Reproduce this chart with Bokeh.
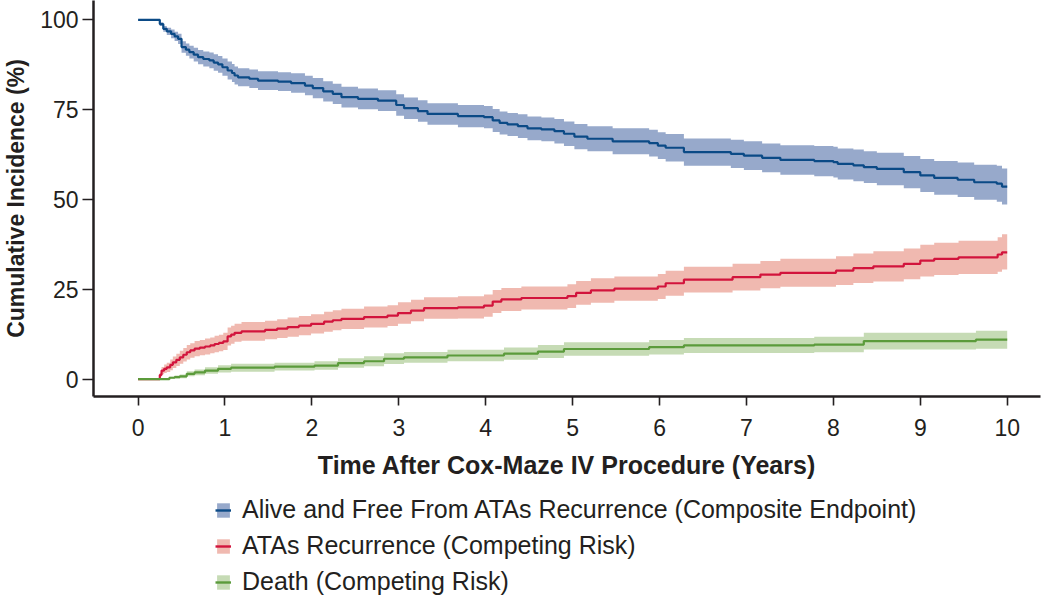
from bokeh.plotting import figure
from bokeh.layouts import column
from bokeh.models import Legend, LegendItem, FixedTicker, Range1d
from bokeh.embed import file_html
from bokeh.resources import INLINE

# ---------------- data ----------------
x_ticks = [0, 1, 2, 3, 4, 5, 6, 7, 8, 9, 10]
y_ticks = [0, 25, 50, 75, 100]

labels = ["Alive and Free From ATAs Recurrence (Composite Endpoint)",
          "ATAs Recurrence (Competing Risk)",
          "Death (Competing Risk)"]

# Alive and free from ATAs recurrence
t_b = [0.00, 0.25, 0.29, 0.33, 0.38, 0.42, 0.46, 0.50, 0.55, 0.59,
       0.64, 0.69, 0.75, 0.82, 0.87, 0.92, 0.97, 1.03, 1.08, 1.11,
       1.15, 1.28, 1.38, 1.61, 1.76, 1.92, 2.01, 2.13, 2.24, 2.34,
       2.53, 2.76, 2.97, 3.06, 3.22, 3.33, 3.68, 3.98, 4.08, 4.16,
       4.25, 4.37, 4.48, 4.64, 4.79, 4.90, 5.02, 5.17, 5.46, 5.88,
       5.98, 6.07, 6.28, 6.82, 6.97, 7.18, 7.39, 7.78, 8.00, 8.05,
       8.23, 8.35, 8.50, 8.81, 9.00, 9.16, 9.43, 9.62, 9.88, 9.94,
       10.00]
est_b = [100.0, 98.8, 97.5, 96.8, 96.1, 95.4, 94.7, 92.4, 91.7, 91.0,
         90.3, 89.6, 89.1, 88.7, 88.1, 87.6, 86.8, 85.9, 85.2, 84.5,
         84.0, 83.6, 83.1, 82.8, 82.4, 81.7, 81.0, 80.1, 79.4, 78.5,
         78.0, 77.5, 76.3, 75.4, 74.6, 73.8, 73.2, 72.9, 72.0, 71.3,
         70.9, 70.4, 69.8, 69.5, 69.0, 68.3, 67.5, 66.9, 66.2, 65.7,
         65.0, 64.4, 63.2, 62.7, 62.2, 61.6, 61.0, 60.7, 60.4, 59.9,
         59.5, 59.0, 58.5, 57.6, 56.7, 56.0, 55.5, 54.8, 54.4, 53.6,
         53.6]
lo_b = [100.0, 98.3, 96.7, 95.8, 94.9, 94.1, 93.3, 90.8, 90.0, 89.2,
        88.4, 87.6, 87.0, 86.5, 85.8, 85.3, 84.4, 83.4, 82.7, 82.0,
        81.5, 81.0, 80.5, 80.2, 79.7, 79.0, 78.2, 77.3, 76.6, 75.6,
        75.1, 74.6, 73.3, 72.4, 71.6, 70.8, 70.1, 69.8, 68.8, 68.1,
        67.7, 67.1, 66.5, 66.2, 65.6, 64.9, 64.0, 63.4, 62.6, 62.0,
        61.3, 60.6, 59.4, 58.8, 58.2, 57.6, 56.9, 56.5, 56.1, 55.6,
        55.1, 54.6, 54.0, 53.1, 52.1, 51.3, 50.7, 49.9, 49.4, 48.6,
        48.6]
hi_b = [100.0, 99.3, 98.3, 97.8, 97.3, 96.7, 96.1, 94.0, 93.4, 92.8,
        92.2, 91.6, 91.2, 90.9, 90.4, 89.9, 89.2, 88.4, 87.7, 87.0,
        86.5, 86.2, 85.7, 85.4, 85.1, 84.4, 83.8, 82.9, 82.2, 81.4,
        80.9, 80.4, 79.3, 78.4, 77.6, 76.8, 76.3, 76.0, 75.2, 74.5,
        74.1, 73.7, 73.1, 72.8, 72.4, 71.7, 71.0, 70.4, 69.8, 69.4,
        68.7, 68.2, 67.0, 66.6, 66.2, 65.6, 65.1, 64.9, 64.7, 64.2,
        63.9, 63.4, 63.0, 62.1, 61.3, 60.7, 60.3, 59.7, 59.4, 58.6,
        58.6]

# ATAs recurrence
t_r = [0.00, 0.25, 0.27, 0.30, 0.33, 0.37, 0.40, 0.44, 0.48, 0.52,
       0.56, 0.60, 0.65, 0.71, 0.77, 0.83, 0.88, 0.93, 0.98, 1.03,
       1.07, 1.11, 1.19, 1.46, 1.60, 1.72, 1.85, 1.99, 2.14, 2.24,
       2.34, 2.60, 2.87, 2.99, 3.14, 3.29, 3.68, 3.98, 4.08, 4.18,
       4.41, 4.94, 5.04, 5.21, 5.48, 5.98, 6.07, 6.28, 6.84, 7.16,
       7.39, 8.03, 8.23, 8.46, 8.81, 9.00, 9.16, 9.44, 9.89, 9.94,
       10.00]
est_r = [0.0, 1.2, 2.4, 2.9, 3.3, 4.0, 4.7, 5.4, 6.1, 6.8,
         7.5, 8.0, 8.5, 8.8, 9.1, 9.4, 9.8, 10.1, 10.5, 11.9,
         12.4, 12.9, 13.3, 13.7, 14.1, 14.5, 14.9, 15.4, 16.0, 16.4,
         16.8, 17.3, 17.7, 18.4, 19.1, 19.8, 20.0, 20.5, 21.6, 22.2,
         22.6, 23.1, 24.0, 24.7, 25.2, 25.8, 26.7, 27.7, 28.4, 29.1,
         29.6, 30.2, 30.9, 31.4, 32.1, 33.0, 33.5, 33.9, 34.7, 35.3,
         35.3]
lo_r = [0.0, 0.6, 1.4, 1.7, 2.0, 2.5, 3.1, 3.7, 4.3, 4.9,
        5.5, 6.0, 6.4, 6.7, 6.9, 7.2, 7.5, 7.8, 8.1, 9.4,
        9.9, 10.4, 10.7, 11.1, 11.5, 11.8, 12.2, 12.7, 13.2, 13.6,
        14.0, 14.4, 14.8, 15.4, 16.1, 16.8, 16.9, 17.4, 18.4, 19.0,
        19.4, 19.8, 20.7, 21.3, 21.8, 22.3, 23.2, 24.1, 24.7, 25.3,
        25.7, 26.2, 26.8, 27.2, 27.8, 28.6, 29.0, 29.3, 29.9, 30.5,
        30.5]
hi_r = [0.0, 1.8, 3.4, 4.1, 4.6, 5.5, 6.3, 7.1, 7.9, 8.7,
        9.5, 10.0, 10.6, 10.9, 11.3, 11.6, 12.1, 12.4, 12.9, 14.4,
        14.9, 15.4, 15.9, 16.3, 16.7, 17.2, 17.6, 18.1, 18.8, 19.2,
        19.6, 20.2, 20.6, 21.4, 22.1, 22.8, 23.1, 23.6, 24.8, 25.4,
        25.8, 26.4, 27.3, 28.1, 28.6, 29.3, 30.2, 31.3, 32.1, 32.9,
        33.5, 34.2, 35.0, 35.6, 36.4, 37.4, 38.0, 38.5, 39.5, 40.3,
        40.3]

# Death
t_g = [0.00, 0.36, 0.42, 0.48, 0.56, 0.65, 0.77, 0.92, 1.07, 1.57,
       2.03, 2.30, 2.60, 2.83, 3.06, 3.56, 4.21, 4.60, 4.90, 5.88,
       6.28, 7.78, 8.35, 9.64, 10.00]
est_g = [0.0, 0.4, 0.6, 0.8, 1.5, 1.9, 2.4, 2.9, 3.2, 3.5,
         3.8, 4.5, 5.0, 5.7, 6.1, 6.6, 7.1, 7.7, 8.4, 8.9,
         9.4, 9.65, 10.6, 11.0, 11.0]
lo_g = [0.0, 0.1, 0.2, 0.3, 0.8, 1.1, 1.5, 1.9, 2.1, 2.4,
        2.6, 3.2, 3.6, 4.2, 4.6, 5.0, 5.4, 5.9, 6.5, 6.9,
        7.3, 7.5, 8.3, 8.5, 8.5]
hi_g = [0.0, 0.7, 1.0, 1.3, 2.2, 2.7, 3.3, 3.9, 4.3, 4.6,
        5.0, 5.8, 6.4, 7.2, 7.6, 8.2, 8.8, 9.5, 10.3, 10.9,
        11.5, 11.8, 12.9, 13.5, 13.5]

line_colors = ["#0b4a86", "#d2143c", "#5b9b3b"]
band_colors = ["#97a9cb", "#f0b9b0", "#c6dbb5"]

FONT = "Liberation Sans"
INK = "#231f20"

# ---------------- main chart ----------------
p = figure(width=1050, frame_height=396, output_backend="svg", toolbar_location=None,
           x_range=Range1d(-0.513, 10.383), y_range=Range1d(-4.81, 105.37),
           min_border_left=92, min_border_right=10, min_border_top=0,
           min_border_bottom=88)
p.outline_line_color = None
p.xgrid.visible = False
p.ygrid.visible = False

series = [(t_b, est_b, lo_b, hi_b), (t_r, est_r, lo_r, hi_r), (t_g, est_g, lo_g, hi_g)]
for (t, e, lo, hi), lc, bc in zip(series, line_colors, band_colors):
    p.varea_step(x=t, y1=lo, y2=hi, step_mode="after", fill_color=bc, fill_alpha=1.0)
    p.step(x=t, y=e, mode="after", line_color=lc, line_width=2.2)

for ax in (p.xaxis[0], p.yaxis[0]):
    ax.axis_line_color = INK
    ax.axis_line_width = 2.5
    ax.major_tick_line_color = INK
    ax.major_tick_line_width = 1.6
    ax.major_tick_in = 0
    ax.minor_tick_line_color = None
    ax.major_label_text_font = FONT
    ax.major_label_text_font_size = "23px"
    ax.major_label_text_color = INK
    ax.axis_label_text_font = FONT
    ax.axis_label_text_font_style = "bold"
    ax.axis_label_text_color = INK

p.xaxis.axis_label_text_font_size = "25px"
p.yaxis.axis_label_text_font_size = "23px"
p.xaxis.major_tick_out = 9
p.yaxis.major_tick_out = 11
p.xaxis.ticker = FixedTicker(ticks=x_ticks)
p.yaxis.ticker = FixedTicker(ticks=y_ticks)
p.xaxis.axis_label = "Time After Cox-Maze IV Procedure (Years)"
p.yaxis.axis_label = "Cumulative Incidence (%)"
p.xaxis.major_label_standoff = 13
p.yaxis.major_label_standoff = 4
p.xaxis.axis_label_standoff = 12
p.yaxis.axis_label_standoff = 8

# ---------------- legend strip ----------------
lg = figure(width=1050, height=112, output_backend="svg", toolbar_location=None,
            x_range=Range1d(0, 1), y_range=Range1d(0, 1),
            x_axis_type=None, y_axis_type=None,
            min_border_left=0, min_border_right=0, min_border_top=0, min_border_bottom=0)
lg.outline_line_color = None
lg.xgrid.visible = False
lg.ygrid.visible = False

items = []
for lc, bc, lab in zip(line_colors, band_colors, labels):
    b = lg.varea_step(x=[5, 6], y1=[5, 5], y2=[6, 6], step_mode="after", fill_color=bc, fill_alpha=1.0)
    l = lg.step(x=[5, 6], y=[5, 5], mode="after", line_color=lc, line_width=2.4)
    items.append(LegendItem(label=lab, renderers=[b, l]))

legend = Legend(items=items, location=(122, 0), orientation="vertical",
                label_text_font=FONT, label_text_font_size="25px",
                label_text_color=INK, label_height=20,
                glyph_width=16, glyph_height=18, label_standoff=11,
                spacing=7, padding=0, margin=0,
                border_line_color=None, background_fill_alpha=0)
lg.add_layout(legend)

open("out.html", "w").write(file_html(column(p, lg, spacing=0), INLINE))
